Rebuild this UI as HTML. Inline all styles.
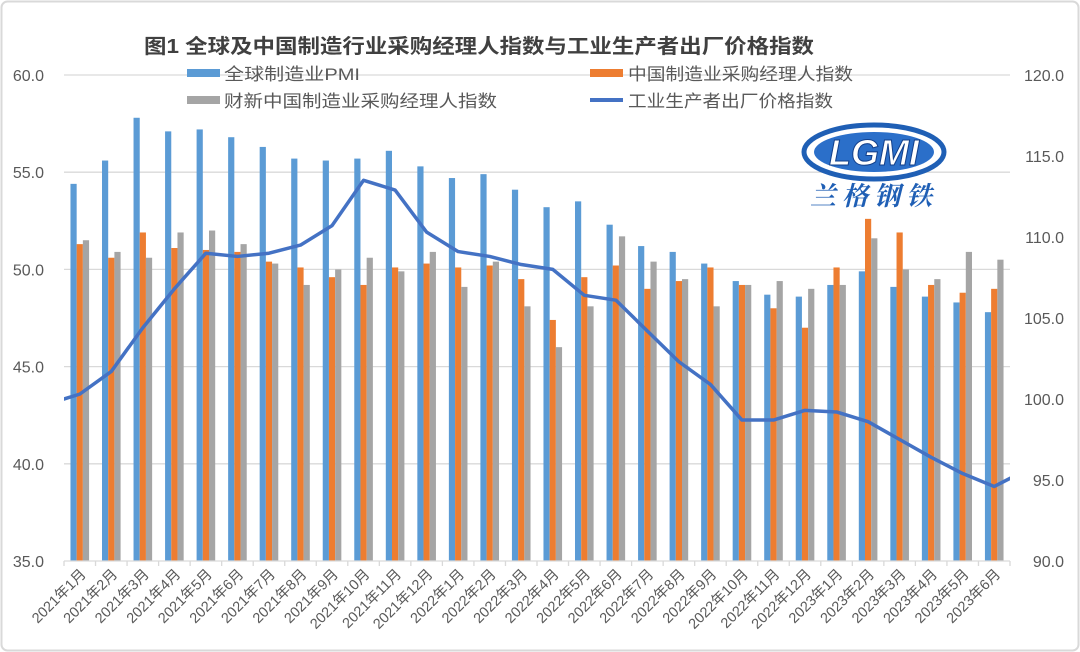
<!DOCTYPE html>
<html><head><meta charset="utf-8">
<style>
html,body{margin:0;padding:0;background:#fff;}
svg{display:block;font-family:"Liberation Sans","Noto Sans CJK SC",sans-serif;}
</style></head>
<body>
<svg id="chart" width="1080" height="652" viewBox="0 0 1080 652">
<rect x="1.5" y="1.5" width="1077" height="649" rx="6" fill="#fff" stroke="#d9d9d9" stroke-width="2"/>
<text x="144" y="53" font-size="20" font-weight="bold" fill="#404040" textLength="670" lengthAdjust="spacingAndGlyphs">图1 全球及中国制造行业采购经理人指数与工业生产者出厂价格指数</text>
<g id="grid"></g>
<g id="bars"></g>
<g id="line"></g>
<g id="axes"></g>
<g>
 <rect x="187" y="69" width="33" height="8" fill="#5b9bd5"/>
 <text x="224" y="80" font-size="17" fill="#595959" textLength="136" lengthAdjust="spacingAndGlyphs">全球制造业PMI</text>
 <rect x="187" y="96" width="33" height="8" fill="#a5a5a5"/>
 <text x="224" y="107" font-size="17" fill="#595959" textLength="273" lengthAdjust="spacingAndGlyphs">财新中国制造业采购经理人指数</text>
 <rect x="590" y="69" width="33" height="8" fill="#ed7d31"/>
 <text x="628" y="80" font-size="17" fill="#595959" textLength="225" lengthAdjust="spacingAndGlyphs">中国制造业采购经理人指数</text>
 <line x1="590" y1="100" x2="623" y2="100" stroke="#4472c4" stroke-width="4"/>
 <text x="628" y="107" font-size="17" fill="#595959" textLength="205" lengthAdjust="spacingAndGlyphs">工业生产者出厂价格指数</text>
</g>
<g>
 <ellipse cx="874" cy="152" rx="70" ry="27" fill="#fff" stroke="#1f5fb5" stroke-width="5"/>
 <ellipse cx="874" cy="152" rx="60" ry="20" fill="#2b6fc9"/>
 <text x="874" y="165" text-anchor="middle" font-size="36" font-weight="bold" font-style="italic" fill="#fff" stroke="#123f8a" stroke-width="1">LGMI</text>
 <text x="874" y="205" text-anchor="middle" font-size="26" font-weight="bold" font-style="italic" fill="#1f5fb5" font-family="'Noto Serif CJK SC',serif" letter-spacing="6">兰格钢铁</text>
</g>
</svg>
<script>
const categories=["2021年1月","2021年2月","2021年3月","2021年4月","2021年5月","2021年6月","2021年7月","2021年8月","2021年9月","2021年10月","2021年11月","2021年12月","2022年1月","2022年2月","2022年3月","2022年4月","2022年5月","2022年6月","2022年7月","2022年8月","2022年9月","2022年10月","2022年11月","2022年12月","2023年1月","2023年2月","2023年3月","2023年4月","2023年5月","2023年6月"];
const globalPmi=[54.4,55.6,57.8,57.1,57.2,56.8,56.3,55.7,55.6,55.7,56.1,55.3,54.7,54.9,54.1,53.2,53.5,52.3,51.2,50.9,50.3,49.4,48.7,48.6,49.2,49.9,49.1,48.6,48.3,47.8];
const chinaPmi=[51.3,50.6,51.9,51.1,51.0,50.9,50.4,50.1,49.6,49.2,50.1,50.3,50.1,50.2,49.5,47.4,49.6,50.2,49.0,49.4,50.1,49.2,48.0,47.0,50.1,52.6,51.9,49.2,48.8,49.0];
const caixinPmi=[51.5,50.9,50.6,51.9,52.0,51.3,50.3,49.2,50.0,50.6,49.9,50.9,49.1,50.4,48.1,46.0,48.1,51.7,50.4,49.5,48.1,49.2,49.4,49.0,49.2,51.6,50.0,49.5,50.9,50.5];
const ppi=[100.3,101.7,104.4,106.8,109.0,108.8,109.0,109.5,110.7,113.5,112.9,110.3,109.1,108.8,108.3,108.0,106.4,106.1,104.2,102.3,100.9,98.7,98.7,99.3,99.2,98.6,97.5,96.4,95.4,94.6];
const ppiBefore=99.7, ppiAfter=95.6;
const leftTicks=["35.0","40.0","45.0","50.0","55.0","60.0"];
const rightTicks=["90.0","95.0","100.0","105.0","110.0","115.0","120.0"];

const NS="http://www.w3.org/2000/svg";
const X0=64,X1=1010,Y0=561,Y1=75;
const step=(X1-X0)/categories.length;
const xc=i=>X0+step*(i+0.5);
const yL=v=>Y0-(v-35)/(60-35)*(Y0-Y1);
const yR=v=>Y0-(v-90)/(120-90)*(Y0-Y1);
function mk(tag,attrs,parent){const e=document.createElementNS(NS,tag);for(const k in attrs)e.setAttribute(k,attrs[k]);parent.appendChild(e);return e;}
const grid=document.getElementById('grid'),bars=document.getElementById('bars'),line=document.getElementById('line'),axes=document.getElementById('axes');
leftTicks.forEach(t=>{const v=parseFloat(t);
 if(v>35){const g=mk('line',{x1:X0,x2:X1,y1:yL(v),y2:yL(v),stroke:'#d9d9d9','stroke-width':1.3},grid);
 
 }
 const tx=mk('text',{x:44,y:yL(v)+6,'text-anchor':'end','font-size':16,fill:'#595959'},axes);tx.textContent=t;
 
 
});
rightTicks.forEach(t=>{const v=parseFloat(t);
 const tx=mk('text',{x:1064,y:yR(v)+6,'text-anchor':'end','font-size':16,fill:'#595959'},axes);tx.textContent=t;
 
 
});
const bw=6.2;
const series=[[globalPmi,'#5b9bd5','bar-global-pmi'],[chinaPmi,'#ed7d31','bar-china-pmi'],[caixinPmi,'#a5a5a5','bar-caixin-pmi']];
categories.forEach((c,i)=>{
 series.forEach((s,j)=>{const v=s[0][i];const x=xc(i)+(j-1.5)*bw;
  const r=mk('rect',{x:x,y:yL(v),width:bw,height:Y0-yL(v),fill:s[1]},bars);
  
  
 });
 const tx=mk('text',{x:0,y:0,'text-anchor':'end','font-size':14.5,fill:'#595959',transform:`translate(${xc(i)+7},${575}) rotate(-45)`},axes);tx.textContent=c;
 
 
});
for(let i=0;i<=categories.length;i++){const x=X0+step*i;const t=mk('line',{x1:x,x2:x,y1:Y0,y2:Y0+5,stroke:'#d9d9d9','stroke-width':1.3},axes);
 
 }
const ax=mk('line',{x1:X0,x2:X1,y1:Y0,y2:Y0,stroke:'#d9d9d9','stroke-width':1.3},axes);


const cp=mk('clipPath',{id:'plotclip'},line);
mk('rect',{x:X0,y:0,width:X1-X0,height:652},cp);
let pts=[[xc(-1),yR(ppiBefore)]];
ppi.forEach((v,i)=>pts.push([xc(i),yR(v)]));
pts.push([xc(ppi.length),yR(ppiAfter)]);
const pl=mk('polyline',{points:pts.map(p=>p.join(',')).join(' '),fill:'none',stroke:'#4472c4','stroke-width':3.5,'stroke-linejoin':'round','clip-path':'url(#plotclip)'},line);


</script>
</body></html>
